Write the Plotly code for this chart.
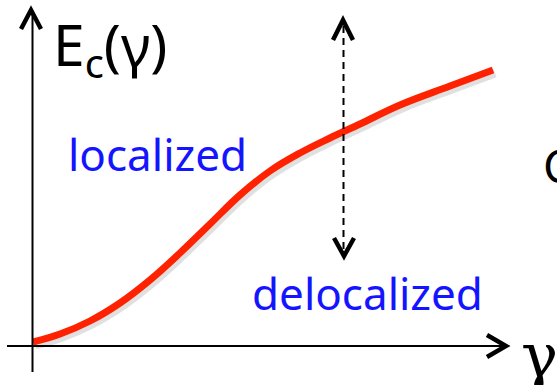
import plotly.graph_objects as go

# Critical energy E_c as a function of disorder strength gamma
gamma = [0.0, 0.27, 0.57, 0.87, 1.17, 1.47, 1.77, 2.07, 2.37, 2.67, 2.97, 3.27, 3.67, 4.17, 4.60]
e_crit = [0.03, 0.11, 0.24, 0.42, 0.65, 0.92, 1.21, 1.50, 1.74, 1.92, 2.07, 2.21, 2.40, 2.59, 2.75]

# Region labels
region_labels = ["localized", "delocalized"]

RED = "#ff2200"
BLUE = "#1414ff"
BLACK = "#000000"
TEXT_FONT = "Noto Sans"

fig = go.Figure()

# soft drop shadow under the curve
fig.add_trace(go.Scatter(
    x=[g + 0.02 for g in gamma], y=[e - 0.03 for e in e_crit],
    mode="lines", line=dict(color="rgba(0,0,0,0.12)", width=9, shape="spline", smoothing=1.1),
    hoverinfo="skip", showlegend=False,
))
fig.add_trace(go.Scatter(
    x=gamma, y=e_crit, mode="lines",
    line=dict(color=RED, width=7, shape="spline", smoothing=1.1),
    showlegend=False,
))

shapes = []
# coordinate axes
shapes.append(dict(type="line", x0=-0.005, x1=-0.005, y0=-0.27, y1=3.33,
                   line=dict(color=BLACK, width=2)))
shapes.append(dict(type="line", x0=-0.26, x1=4.71, y0=-0.01, y1=-0.01,
                   line=dict(color=BLACK, width=2)))
# open arrowheads of the axes
shapes.append(dict(type="path", path="M -0.12,3.16 L -0.02,3.35 L 0.08,3.16",
                   line=dict(color=BLACK, width=4.5)))
shapes.append(dict(type="path", path="M 4.54,0.10 L 4.73,-0.01 L 4.54,-0.12",
                   line=dict(color=BLACK, width=4.5)))
# dashed double arrow marking the transition
shapes.append(dict(type="line", x0=3.105, x1=3.105, y0=0.96, y1=3.2,
                   line=dict(color=BLACK, width=2, dash="7px,5px")))
shapes.append(dict(type="path", path="M 3.0,3.05 L 3.1,3.25 L 3.2,3.05",
                   line=dict(color=BLACK, width=4.5)))
shapes.append(dict(type="path", path="M 3.01,1.07 L 3.11,0.89 L 3.21,1.07",
                   line=dict(color=BLACK, width=4.5)))

annotations = [
    dict(x=0.18, y=2.98, text="E<sub>c</sub>(γ)", showarrow=False,
         xanchor="left", yanchor="middle",
         font=dict(family=TEXT_FONT, size=57, color=BLACK)),
    dict(x=0.33, y=1.91, text=region_labels[0], showarrow=False,
         xanchor="left", yanchor="middle",
         font=dict(family=TEXT_FONT, size=44, color=BLUE)),
    dict(x=2.17, y=0.52, text=region_labels[1], showarrow=False,
         xanchor="left", yanchor="middle",
         font=dict(family=TEXT_FONT, size=44, color=BLUE)),
    dict(x=5.06, y=-0.1, text="γ", showarrow=False,
         xanchor="center", yanchor="middle",
         font=dict(family="DejaVu Serif", size=62, color=BLACK)),
    dict(x=5.08, y=1.80, text="C", showarrow=False,
         xanchor="left", yanchor="middle",
         font=dict(family=TEXT_FONT, size=46, color=BLACK)),
]

fig.update_layout(
    width=557, height=385,
    margin=dict(l=0, r=0, t=0, b=0),
    paper_bgcolor="white", plot_bgcolor="white",
    xaxis=dict(range=[-0.33, 5.24], visible=False, fixedrange=True),
    yaxis=dict(range=[-0.40, 3.45], visible=False, fixedrange=True),
    shapes=shapes, annotations=annotations,
)

fig.write_html("out.html")
